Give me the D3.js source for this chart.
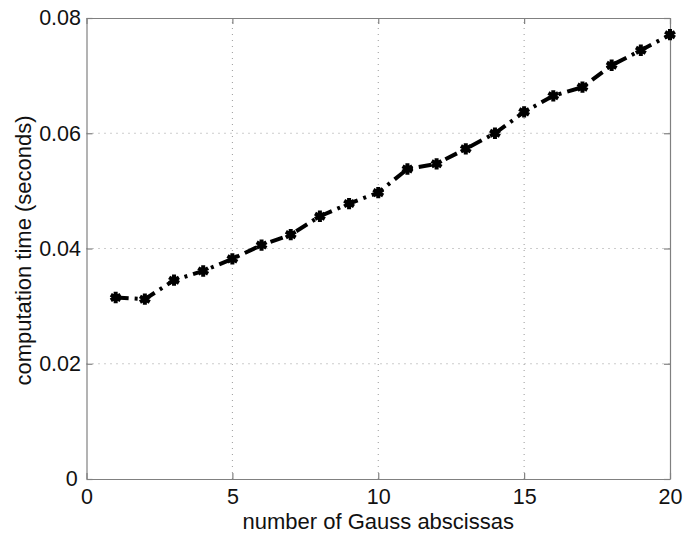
<!DOCTYPE html>
<html>
<head>
<meta charset="utf-8">
<script src="https://cdn.jsdelivr.net/npm/d3@7"></script>
<style>
  html, body { margin: 0; padding: 0; background: #fff; }
  svg { display: block; font-family: "Liberation Sans", Arial, sans-serif; }
</style>
</head>
<body>
<svg id="chart" width="686" height="536"></svg>
<script>
// Number of Gauss abscissas used in the quadrature
const abscissas = [1, 2, 3, 4, 5, 6, 7, 8, 9, 10, 11, 12, 13, 14, 15, 16, 17, 18, 19, 20];
// Measured computation time in seconds
const times = [0.0315, 0.0312, 0.0345, 0.0361, 0.0382, 0.0406, 0.0424, 0.0456, 0.0478, 0.0497,
               0.0538, 0.0547, 0.0573, 0.0600, 0.0637, 0.0665, 0.0680, 0.0718, 0.0744, 0.0771];
const xTicks = [0, 5, 10, 15, 20];
const yTicks = [0, 0.02, 0.04, 0.06, 0.08];
const yTickLabels = ["0", "0.02", "0.04", "0.06", "0.08"];

const svg = d3.select("#chart");
const W = 686, H = 536;
const margin = { left: 86.5, right: 16, top: 18, bottom: 57 };
const iw = W - margin.left - margin.right;
const ih = H - margin.top - margin.bottom;

const x = d3.scaleLinear().domain([0, 20]).range([margin.left, margin.left + iw]);
const y = d3.scaleLinear().domain([0, 0.08]).range([margin.top + ih, margin.top]);

const axisColor = "#808080";
const font = "Liberation Sans, Arial, sans-serif";

// dotted grid lines
const grid = svg.append("g");
grid.selectAll("line.gx").data(xTicks.slice(1, -1)).join("line")
  .attr("x1", d => x(d)).attr("x2", d => x(d))
  .attr("y1", y(0)).attr("y2", y(0.08))
  .attr("stroke", "#9a9a9a").attr("stroke-width", 1).attr("stroke-dasharray", "1,5");
grid.selectAll("line.gy").data(yTicks.slice(1, -1)).join("line")
  .attr("x1", x(0)).attr("x2", x(20))
  .attr("y1", d => y(d)).attr("y2", d => y(d))
  .attr("stroke", "#9a9a9a").attr("stroke-width", 1).attr("stroke-dasharray", "1,5");

// axes with inward ticks on all four sides
const tick = 6;
const gB = svg.append("g").attr("transform", `translate(0,${y(0)})`)
  .call(d3.axisBottom(x).tickValues(xTicks).tickSizeInner(-tick).tickSizeOuter(0).tickPadding(10));
const gT = svg.append("g").attr("transform", `translate(0,${y(0.08)})`)
  .call(d3.axisTop(x).tickValues(xTicks).tickSizeInner(-tick).tickSizeOuter(0).tickFormat(""));
const gL = svg.append("g").attr("transform", `translate(${x(0)},0)`)
  .call(d3.axisLeft(y).tickValues(yTicks).tickSizeInner(-tick).tickSizeOuter(0).tickPadding(5.5)
    .tickFormat((d, i) => yTickLabels[i]));
const gR = svg.append("g").attr("transform", `translate(${x(20)},0)`)
  .call(d3.axisRight(y).tickValues(yTicks).tickSizeInner(-tick).tickSizeOuter(0).tickFormat(""));

[gB, gT, gL, gR].forEach(g => {
  g.select(".domain").attr("stroke", axisColor).attr("stroke-width", 1.2);
  g.selectAll(".tick line").attr("stroke", axisColor).attr("stroke-width", 1.2);
  g.selectAll(".tick text").attr("fill", "#111").attr("font-size", 21.5).attr("font-family", font);
});
gL.selectAll(".tick text").filter(d => d === 0).attr("dx", "-0.15em");

// data line, dash-dot
const line = d3.line().x((d, i) => x(abscissas[i])).y(d => y(d));
svg.append("path").datum(times)
  .attr("d", line)
  .attr("fill", "none").attr("stroke", "#000").attr("stroke-width", 4)
  .attr("stroke-dasharray", "13,6,3,6");

// asterisk markers
const sym = d3.symbol().type(d3.symbolAsterisk).size(90);
svg.append("g").selectAll("path").data(times).join("path")
  .attr("transform", (d, i) => `translate(${x(abscissas[i])},${y(d)})`)
  .attr("d", sym)
  .attr("fill", "none").attr("stroke", "#000").attr("stroke-width", 4);

// axis titles
svg.append("text")
  .attr("x", x(10)).attr("y", 529)
  .attr("text-anchor", "middle").attr("font-size", 22).attr("font-family", font).attr("fill", "#111")
  .text("number of Gauss abscissas");
svg.append("text")
  .attr("transform", `translate(31,${y(0.04) + 2}) rotate(-90)`)
  .attr("text-anchor", "middle").attr("font-size", 22).attr("font-family", font).attr("fill", "#111")
  .text("computation time (seconds)");
</script>
</body>
</html>
